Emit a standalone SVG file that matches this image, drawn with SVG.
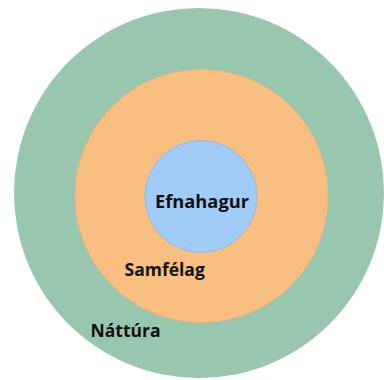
<svg xmlns="http://www.w3.org/2000/svg" width="384" height="380" viewBox="0 0 384 380">
<style>
.lbl{font-family:"Open Sans","Noto Sans","DejaVu Sans",sans-serif;font-weight:700;font-size:17.5px;fill:#111}
.big{font-size:18.3px}
</style>
<rect width="384" height="380" fill="#ffffff"/>
<g id="nattura">
<circle cx="199" cy="193" r="185" fill="#98C6AE"/>
<text class="lbl" x="90.5" y="337">Náttúra</text>
</g>
<g id="samfelag">
<circle cx="201.5" cy="196" r="126.5" fill="#F9BF80" stroke="#F2B375" stroke-width="1"/>
<text class="lbl" x="124.5" y="275.5">Samfélag</text>
</g>
<g id="efnahagur">
<circle cx="201" cy="196.5" r="56" fill="#A0CCF7" stroke="#8FBDE6" stroke-width="1"/>
<text class="lbl big" x="202" y="208" text-anchor="middle">Efnahagur</text>
</g>
<g id="connectors"></g>
</svg>
